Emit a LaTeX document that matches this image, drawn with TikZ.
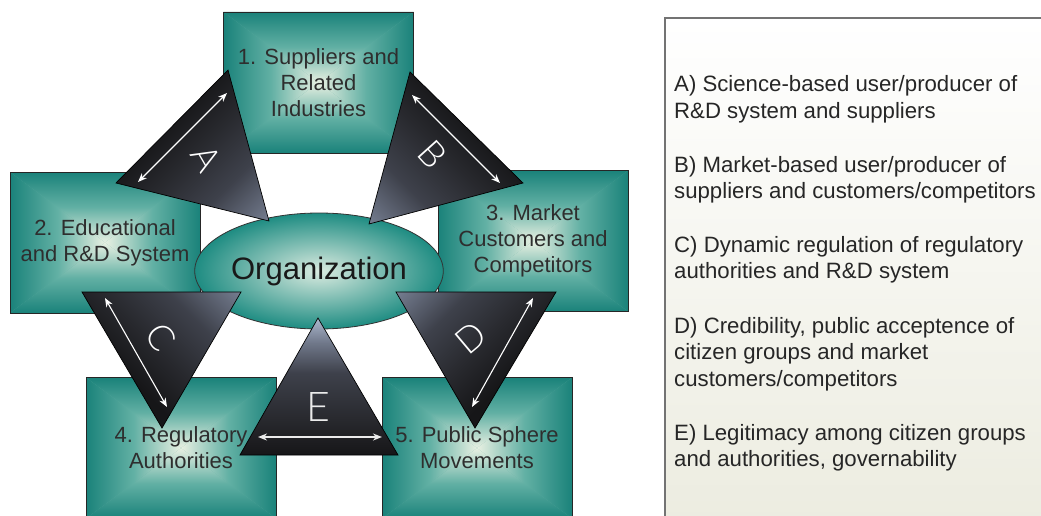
\documentclass[tikz,border=0pt]{standalone}
\usepackage{fontspec}
\setmainfont{Liberation Sans}
\newfontfamily\thinfont{Lato Light}
\usetikzlibrary{arrows.meta,shapes.geometric}
\definecolor{boxteal}{RGB}{26,130,122}
\definecolor{boxmid}{RGB}{98,176,164}
\definecolor{boxlight}{RGB}{232,240,226}
\definecolor{orgteal}{RGB}{30,140,130}
\definecolor{orglight}{RGB}{218,235,224}
\definecolor{tridark}{RGB}{22,22,24}
\definecolor{tridarkb}{RGB}{40,41,46}
\definecolor{trimid}{RGB}{62,65,75}
\definecolor{trimed}{RGB}{112,120,138}
\definecolor{trilight}{RGB}{172,184,206}
\definecolor{panelbot}{RGB}{236,236,224}
\pgfdeclareverticalshading{trishade}{100bp}{color(0bp)=(trilight); color(4bp)=(trilight); color(16bp)=(trimed); color(32bp)=(trimid); color(48bp)=(tridarkb); color(62bp)=(tridark); color(100bp)=(tridark)}
\pgfdeclareverticalshading{trishadeE}{100bp}{color(0bp)=(tridark); color(25bp)=(tridark); color(38bp)=(tridarkb); color(55bp)=(trimid); color(66bp)=(trimed); color(75bp)=(trilight); color(100bp)=(trilight)}
\begin{document}
\begin{tikzpicture}[x=1pt,y=-1pt,
  tealbox/.style={draw=black!85, line width=0.8pt, minimum width=190pt, minimum height=141pt, inner sep=0pt,
    path picture={
      \coordinate (ppc) at (path picture bounding box.center);
      \fill[boxmid] (path picture bounding box.south west) rectangle (path picture bounding box.north east);
      \shade[top color=boxteal, bottom color=boxlight, middle color=boxmid]
        (path picture bounding box.north west) -- (path picture bounding box.north east) -- (ppc) -- cycle;
      \shade[top color=boxlight, bottom color=boxteal, middle color=boxmid]
        (path picture bounding box.south west) -- (path picture bounding box.south east) -- (ppc) -- cycle;
      \shade[left color=boxteal, right color=boxlight, middle color=boxmid]
        (path picture bounding box.north west) -- (path picture bounding box.south west) -- (ppc) -- cycle;
      \shade[left color=boxlight, right color=boxteal, middle color=boxmid]
        (path picture bounding box.north east) -- (path picture bounding box.south east) -- (ppc) -- cycle;
    }},
  boxtext/.style={align=center, inner sep=0pt, text=black!82, font=\fontsize{22}{26}\selectfont},
  orgell/.style={ellipse, draw=black!80, line width=0.8pt, minimum width=202pt, minimum height=116pt, inner sep=0pt,
    inner color=orglight, outer color=orgteal, text=black!90, font=\fontsize{31}{36}\selectfont},
  tri/.style={draw=black, line width=0.7pt, shading=trishade},
  dblarrow/.style={draw=white, line width=1.1pt, {Stealth[length=9pt,width=7pt]}-{Stealth[length=9pt,width=7pt]}},
  letter/.style={text=white, inner sep=0pt, font=\thinfont\fontsize{36}{36}\selectfont},
  paneltext/.style={align=left, inner sep=0pt, anchor=base west, text=black!85, font=\fontsize{22.2}{26.7}\selectfont}
]
\useasboundingbox (0,0) rectangle (1041,516);
\fill[white] (0,0) rectangle (1041,516);

% right panel
\shade[top color=white, bottom color=panelbot, draw=black!55, line width=1.2pt] (665,18) rectangle (1050,525);

% boxes
\node[tealbox] (b1) at (318.5,82.5) {};
\node[tealbox] (b2) at (105,242.5) {};
\node[tealbox] (b3) at (533,241) {};
\node[tealbox] (b4) at (181,448) {};
\node[tealbox] (b5) at (477,448) {};

% organization
\node[orgell] (org) at (319,271) {Organization};

% triangles
\shade[tri, shading angle=45]   (228,70) -- (116,183) -- (269,221) -- cycle;
\shade[tri, shading angle=-45]  (410,72) -- (523,183) -- (369,224) -- cycle;
\shade[tri, shading angle=135]  (82,292) -- (241,292) -- (162,428) -- cycle;
\shade[tri, shading angle=-135] (396,292) -- (556,292) -- (475,428) -- cycle;
\shade[draw=black, line width=0.7pt, shading=trishadeE] (318,318) -- (240,455) -- (398,455) -- cycle;

% arrows
\coordinate (aA1) at (227,93);  \coordinate (aA2) at (138,182);
\coordinate (aB1) at (412,95);  \coordinate (aB2) at (500,183);
\coordinate (aC1) at (105,298); \coordinate (aC2) at (167,407);
\coordinate (aD1) at (533,298); \coordinate (aD2) at (472,407);
\coordinate (aE1) at (258,437); \coordinate (aE2) at (382,437);
\draw[dblarrow] (aA1) -- (aA2);
\draw[dblarrow] (aB1) -- (aB2);
\draw[dblarrow] (aC1) -- (aC2);
\draw[dblarrow] (aD1) -- (aD2);
\draw[dblarrow, draw=black!8, line width=2pt] (aE1) -- (aE2);

% letters
\node[letter, rotate=-60] (lA) at (206,158) {A};
\node[letter, rotate=-48] (lB) at (433,154) {B};
\node[letter, rotate=-55] (lC) at (161,337) {C};
\node[letter, rotate=40] (lD) at (471,338) {D};
\node[letter, text=black!8, font=\thinfont\fontsize{41}{41}\selectfont] (lE) at (318,407) {E};

% box texts
\node[boxtext] (t1) at (b1) {1. Suppliers and\\Related\\Industries};
\node[boxtext] (t2) at (b2) {2. Educational\\and R\&D System};
\node[boxtext] (t3) at (b3) {3. Market\\Customers and\\Competitors};
\node[boxtext] (t4) at (b4) {4. Regulatory\\Authorities};
\node[boxtext] (t5) at (b5) {5. Public Sphere\\Movements};

% panel texts (anchored at the baseline of the last line)
\node[paneltext] (pA) at (674,118.7) {A) Science-based user/producer of\\R\&D system and suppliers};
\node[paneltext] (pB) at (674,198.7) {B) Market-based user/producer of\\suppliers and customers/competitors};
\node[paneltext] (pC) at (674,278.7) {C) Dynamic regulation of regulatory\\authorities and R\&D system};
\node[paneltext] (pD) at (674,386.4) {D) Credibility, public acceptence of\\citizen groups and market\\customers/competitors};
\node[paneltext] (pE) at (674,466.7) {E) Legitimacy among citizen groups\\and authorities, governability};
\end{tikzpicture}
\end{document}
